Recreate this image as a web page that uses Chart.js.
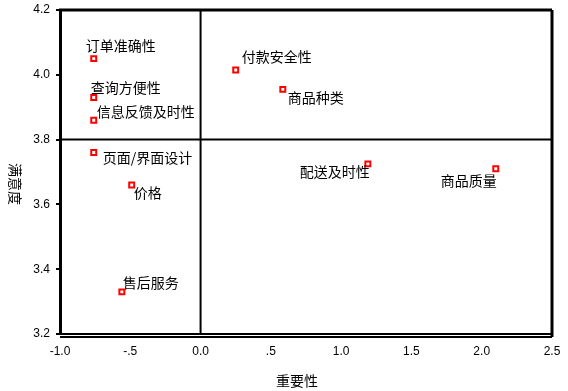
<!DOCTYPE html>
<html>
<head>
<meta charset="utf-8">
<script src="https://cdn.jsdelivr.net/npm/chart.js@4"></script>
<style>
  body { margin: 0; background: #fff; }
  #wrap { width: 568px; height: 391px; }
</style>
</head>
<body>
<div id="wrap"><canvas id="quadChart" width="568" height="391"></canvas></div>
<script>
// importance (x) / satisfaction (y) for each item
const names = ["订单准确性", "查询方便性", "信息反馈及时性", "页面/界面设计", "价格", "售后服务",
               "付款安全性", "商品种类", "配送及时性", "商品质量"];
const importance = [-0.76, -0.76, -0.76, -0.76, -0.49, -0.56, 0.25, 0.585, 1.19, 2.10];
const satisfaction = [4.05, 3.93, 3.86, 3.76, 3.66, 3.33, 4.015, 3.955, 3.725, 3.71];
const xTickLabels = {"-1": "-1.0", "-0.5": "-.5", "0": "0.0", "0.5": ".5", "1": "1.0", "1.5": "1.5", "2": "2.0", "2.5": "2.5"};

// label placement next to each marker: dx, dy, align
const labelPos = [
    [-8, -13, "left"], [-3, -10, "left"], [3, -8, "left"], [9, 5, "left"], [2, 8, "left"],
    [1, -9, "left"], [6, -13, "left"], [5, 8, "left"], [2, 8, "right"], [1, 12, "right"]
];

const cjk = "'Noto Sans CJK SC', sans-serif";

let pts = [];
for (let i = 0; i < names.length; i++) {
    pts.push({x: importance[i], y: satisfaction[i]});
}

const framePlugin = {
    id: "frame",
    afterDatasetsDraw(chart) {
        const ctx = chart.ctx;
        const a = chart.chartArea;
        const xs = chart.scales.x, ys = chart.scales.y;
        ctx.save();
        ctx.strokeStyle = "#000";
        ctx.lineWidth = 3;
        ctx.beginPath();
        ctx.moveTo(a.left - 1, a.top); ctx.lineTo(a.right, a.top);
        ctx.moveTo(a.right, a.top); ctx.lineTo(a.right, a.bottom + 3);
        ctx.stroke();
        ctx.lineWidth = 2;
        ctx.beginPath();
        // quadrant lines
        let x0 = xs.getPixelForValue(0);
        let y0 = ys.getPixelForValue(3.8);
        ctx.moveTo(x0, a.top); ctx.lineTo(x0, a.bottom);
        ctx.moveTo(a.left, y0); ctx.lineTo(a.right, y0);
        // second bottom line
        ctx.moveTo(a.left, a.bottom + 3); ctx.lineTo(a.right, a.bottom + 3);
        ctx.stroke();

        // point labels
        const meta = chart.getDatasetMeta(0);
        ctx.fillStyle = "#000";
        ctx.font = "14px " + cjk;
        ctx.textBaseline = "middle";
        for (let i = 0; i < names.length; i++) {
            const p = meta.data[i];
            ctx.textAlign = labelPos[i][2];
            ctx.fillText(names[i], p.x + labelPos[i][0], p.y + labelPos[i][1]);
        }

        // axis titles
        ctx.textAlign = "center";
        ctx.fillText("重要性", 297, 381);
        ctx.translate(15, 184);
        ctx.rotate(Math.PI / 2);
        ctx.fillText("满意度", 0, 0);
        ctx.restore();
    }
};

const ctx = document.getElementById("quadChart").getContext("2d");
new Chart(ctx, {
    type: "scatter",
    data: {
        datasets: [{
            data: pts,
            pointStyle: "rect",
            pointRadius: 3.5,
            pointHoverRadius: 3.5,
            borderColor: "#ff0000",
            backgroundColor: "#ffffff",
            borderWidth: 2
        }]
    },
    options: {
        responsive: false,
        animation: false,
        layout: { padding: { top: 10, right: 16, left: 0, bottom: 0 } },
        plugins: { legend: { display: false }, tooltip: { enabled: false } },
        scales: {
            x: {
                type: "linear",
                min: -1, max: 2.5,
                afterFit: s => { s.height = 57; s.paddingRight = 0; s.paddingLeft = 0; },
                afterBuildTicks: s => {
                    s.ticks = Object.keys(xTickLabels).map(Number).sort((a, b) => a - b).map(v => ({value: v}));
                },
                grid: { drawOnChartArea: false, drawTicks: true, tickLength: 0, color: "#000" },
                border: { display: true, color: "#000", width: 2 },
                ticks: {
                    color: "#000",
                    padding: 10,
                    maxRotation: 0,
                    autoSkip: false,
                    font: { family: "'Liberation Sans', Arial, sans-serif", size: 12 },
                    callback: v => xTickLabels[String(v)]
                }
            },
            y: {
                min: 3.2, max: 4.2,
                afterFit: s => { s.width = 60; s.paddingTop = 0; s.paddingBottom = 0; },
                grid: { drawOnChartArea: false, drawTicks: true, tickLength: 4, color: "#000", lineWidth: 2 },
                border: { display: true, color: "#000", width: 3 },
                ticks: {
                    stepSize: 0.2,
                    color: "#000",
                    padding: 6,
                    font: { family: "'Liberation Sans', Arial, sans-serif", size: 12 },
                    callback: v => v.toFixed(1)
                }
            }
        }
    },
    plugins: [framePlugin]
});
</script>
</body>
</html>
